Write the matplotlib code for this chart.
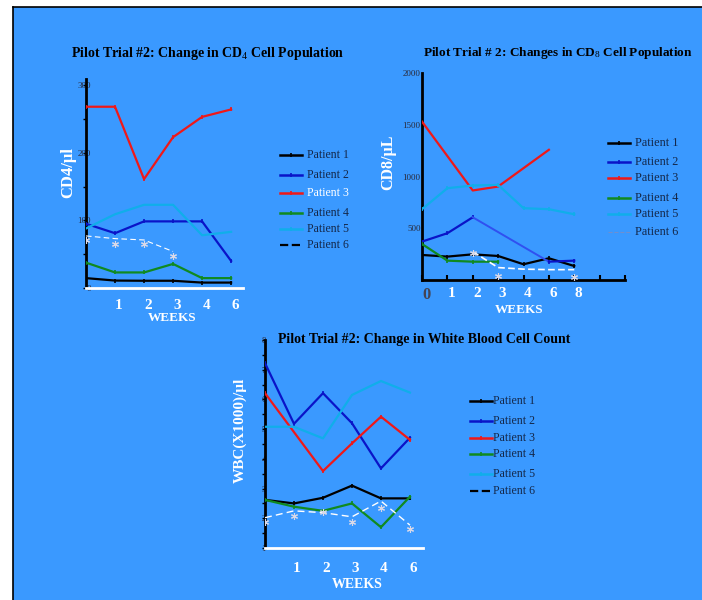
import matplotlib
matplotlib.use("Agg")
import matplotlib.pyplot as plt
from matplotlib.lines import Line2D
import matplotlib.transforms as mtransforms
import numpy as np

plt.rcParams['font.family'] = ['Liberation Serif', 'DejaVu Serif']
plt.rcParams['mathtext.fontset'] = 'custom'
plt.rcParams['mathtext.rm'] = 'Liberation Serif'
plt.rcParams['mathtext.it'] = 'Liberation Serif'
plt.rcParams['mathtext.bf'] = 'Liberation Serif:bold'

W, H = 702, 600
BG = '#3A99FF'
LEG_TXT = '#14284A'
TICK_TXT = '#2A2A3A'

patients = ['Patient 1', 'Patient 2', 'Patient 3', 'Patient 4', 'Patient 5', 'Patient 6']
colors = ['#000000', '#0A14C8', '#F01818', '#108A20', '#10AEEA', '#FFFFFF']

# ---------------- CD4 chart ----------------
cd4_weeks = ['0', '1', '2', '3', '4', '6']
cd4_p1 = [14.6, 11, 10.7, 10.7, 8, 8]
cd4_p2 = [95, 81, 98.5, 98.5, 98.5, 40]
cd4_p3 = [268, 268, 161, 223, 253, 264]
cd4_p4 = [37.5, 23, 23, 35.6, 14.6, 14.6]
cd4_p5 = [88, 109, 123, 123, 78, 83]
cd4_p6 = [77, 73, 71, 54]
cd4_p6_star = [71, 65, 65, 47]
cd4_yticks = [0, 100, 200, 300]

# ---------------- CD8 chart ----------------
cd8_weeks = ['0', '1', '2', '3', '4', '6', '8']
cd8_p1 = [242, 226, 248, 232, 152, 210, 135]
cd8_p2_x = [0, 1, 2, 5, 6]
cd8_p2 = [371, 452, 606, 177, 187]
cd8_p3_x = [0, 2, 3, 5]
cd8_p3 = [1530, 865, 903, 1258]
cd8_p4 = [348, 187, 177, 177]
cd8_p5 = [684, 887, 913, 919, 694, 684, 635]
cd8_p6_x = [2, 3, 4, 5, 6]
cd8_p6 = [274, 120, 105, 100, 100]
cd8_p6_star_x = [2, 3, 6]
cd8_p6_star = [262, 39, 26]
cd8_yticks = [500, 1000, 1500, 2000]

# ---------------- WBC chart ----------------
wbc_weeks = ['0', '1', '2', '3', '4', '6']
wbc_p1 = [2.62, 2.50, 2.69, 3.10, 2.67, 2.67]
wbc_p2 = [7.22, 5.18, 6.21, 5.20, 3.68, 4.71]
wbc_p3_x = [0, 2, 3, 4, 5]
wbc_p3 = [6.21, 3.59, 4.52, 5.42, 4.64]
wbc_p4 = [2.62, 2.39, 2.25, 2.50, 1.70, 2.73]
wbc_p5 = [5.08, 5.08, 4.69, 6.15, 6.62, 6.23]
wbc_p6 = [2.02, 2.25, 2.19, 2.05, 2.58, 1.77]
wbc_p6_star = [1.88, 2.08, 2.20, 1.88, 2.36, 1.64]
wbc_yticks = [1, 2, 3, 4, 5, 6, 7, 8]


def rect(l, t, r, b):
    return [l / W, 1 - b / H, (r - l) / W, (b - t) / H]


def fx(px):
    return px / W


def fy(py):
    return 1 - py / H


fig = plt.figure(figsize=(W / 100, H / 100), dpi=100, facecolor='white')
# blue panel with black frame lines
fig.add_artist(plt.Rectangle((fx(13), 0), 1 - fx(13), fy(7), transform=fig.transFigure,
                             facecolor=BG, edgecolor='none', zorder=-10))
fig.add_artist(Line2D([fx(12.5), fx(12.5)], [0, fy(6.5)], transform=fig.transFigure, color='black', lw=1.2))
fig.add_artist(Line2D([fx(12.5), 1], [fy(6.5), fy(6.5)], transform=fig.transFigure, color='black', lw=1.2))


def style_axes(ax):
    ax.set_facecolor('none')
    ax.patch.set_alpha(0)
    for s in ['top', 'right']:
        ax.spines[s].set_visible(False)


def shift_xlabels(ax, dx_px):
    off = mtransforms.ScaledTranslation(dx_px / 100, 0, fig.dpi_scale_trans)
    for lab in ax.get_xticklabels():
        lab.set_transform(lab.get_transform() + off)


def legend(x0, x1, xt, ys, txtcolors, styles, fs=9.5):
    for i, y in enumerate(ys):
        ls, lw, c = styles[i]
        fig.add_artist(Line2D([fx(x0), fx(x1)], [fy(y), fy(y)], transform=fig.transFigure,
                              color=c, lw=lw, ls=ls))
        if ls == '-':
            fig.add_artist(Line2D([fx((x0 + x1) / 2)], [fy(y)], transform=fig.transFigure,
                                  color=c, marker='|', ms=3.5, mew=1.2))
        fig.text(fx(xt), fy(y), patients[i], color=txtcolors[i], fontsize=fs,
                 va='center', ha='left')


# ================= Chart 1: CD4 =================
ax1 = fig.add_axes(rect(86, 79, 243, 288))
style_axes(ax1)
x = np.arange(len(cd4_weeks))
ax1.plot(x, cd4_p1, color=colors[0], lw=1.6, marker='|', ms=3.5, mew=1.2, zorder=3)
ax1.plot(x, cd4_p2, color=colors[1], lw=1.6, marker='|', ms=3.5, mew=1.2, zorder=3)
ax1.plot(x, cd4_p3, color=colors[2], lw=1.6, marker='|', ms=3.5, mew=1.2, zorder=3)
ax1.plot(x, cd4_p4, color=colors[3], lw=1.6, marker='|', ms=3.5, mew=1.2, zorder=3)
ax1.plot(x, cd4_p5, color=colors[4], lw=1.6, zorder=3)
ax1.plot(x[:len(cd4_p6)], cd4_p6, color='white', lw=0.8, ls=(0, (5, 3)), zorder=3)
ax1.plot(x[:len(cd4_p6_star)], cd4_p6_star, ls='none', marker=(6, 2, 0), ms=5,
         mew=0.8, color='#D8D8E8', zorder=3)
ax1.set_xlim(0, 5.41)
ax1.set_ylim(0, 309)
ax1.spines['left'].set_color('black')
ax1.spines['left'].set_linewidth(2)
ax1.spines['bottom'].set_color('white')
ax1.spines['bottom'].set_linewidth(2)
ax1.set_yticks(cd4_yticks)
ax1.set_yticks([50, 150, 250], minor=True)
ax1.set_yticklabels([str(v) for v in cd4_yticks])
ax1.tick_params(axis='y', which='both', direction='out', length=2.5, width=1, color='black',
                labelsize=6.5, labelcolor=TICK_TXT, pad=-6)
ax1.set_xticks(x)
ax1.set_xticklabels([''] + cd4_weeks[1:])
ax1.tick_params(axis='x', length=0, labelsize=11, labelcolor='white', pad=8)
for lab in ax1.get_xticklabels():
    lab.set_fontweight('bold')
shift_xlabels(ax1, 4)
fig.text(fx(208), fy(53), r'Pilot Trial #2: Change in CD$_{4}$ Cell Population', fontsize=10,
         fontweight='bold', ha='center', va='center', color='black')
fig.text(fx(172), fy(318), 'WEEKS', fontsize=9.5, fontweight='bold', color='white',
         ha='center', va='center')
fig.text(fx(68), fy(172), 'CD4/µl', fontsize=12, fontweight='bold', color='white',
         ha='center', va='center', rotation=90)
legend(280, 302, 307, [155, 175, 193, 213, 229, 245],
       [LEG_TXT, LEG_TXT, 'white', LEG_TXT, LEG_TXT, LEG_TXT],
       [('-', 1.8, colors[0]), ('-', 1.8, colors[1]), ('-', 1.8, colors[2]),
        ('-', 1.8, colors[3]), ('-', 1.8, colors[4]), ('--', 1.6, 'black')], fs=8.5)

# ================= Chart 2: CD8 =================
ax2 = fig.add_axes(rect(422, 73, 625, 280))
style_axes(ax2)
x2 = np.arange(len(cd8_weeks))
ax2.plot(x2, cd8_p1, color=colors[0], lw=1.6, marker='|', ms=3.5, mew=1.2, zorder=3)
ax2.plot(cd8_p2_x[:3], cd8_p2[:3], color=colors[1], lw=1.6, marker='|', ms=3.5, mew=1.2, zorder=3)
ax2.plot(cd8_p2_x[2:4], cd8_p2[2:4], color='#3050F0', lw=1.4, zorder=3)
ax2.plot(cd8_p2_x[3:], cd8_p2[3:], color=colors[1], lw=1.6, marker='|', ms=3.5, mew=1.2, zorder=3)
ax2.plot(cd8_p3_x, cd8_p3, color=colors[2], lw=1.6, zorder=3)
ax2.plot(x2[:len(cd8_p4)], cd8_p4, color=colors[3], lw=1.6, marker='|', ms=3.5, mew=1.2, zorder=3)
ax2.plot(x2, cd8_p5, color=colors[4], lw=1.6, marker='|', ms=3.5, mew=1.2, zorder=3)
ax2.plot(cd8_p6_x, cd8_p6, color='white', lw=1.2, ls=(0, (4, 2)), zorder=3)
ax2.plot(cd8_p6_star_x, cd8_p6_star, ls='none', marker=(6, 2, 0), ms=5, mew=0.8,
         color='#D8D8E8', zorder=3)
ax2.set_xlim(0, 8)
ax2.set_ylim(0, 2000)
for s in ['left', 'bottom']:
    ax2.spines[s].set_color('black')
    ax2.spines[s].set_linewidth(2)
ax2.set_yticks(cd8_yticks)
ax2.set_yticklabels([str(v) for v in cd8_yticks])
ax2.tick_params(axis='y', length=0, labelsize=6.5, labelcolor=TICK_TXT, pad=1)
ax2.set_xticks(np.arange(9))
ax2.set_xticklabels(cd8_weeks + ['', ''])
ax2.tick_params(axis='x', direction='in', length=3.5, width=1.5, color='black',
                labelsize=11, labelcolor='white', pad=5)
for lab in ax2.get_xticklabels():
    lab.set_fontweight('bold')
ax2.get_xticklabels()[0].set_color('#444455')
ax2.get_xticklabels()[0].set_fontsize(12)
shift_xlabels(ax2, 4)
fig.text(fx(423), fy(53), r'Pilot Trial # 2: Changes in CD$_{8}$ Cell Population', fontsize=9.5,
         fontweight='bold', ha='left', va='center', color='black')
fig.text(fx(519), fy(310), 'WEEKS', fontsize=9.5, fontweight='bold', color='white',
         ha='center', va='center')
fig.text(fx(388), fy(162), 'CD8/µL', fontsize=11.5, fontweight='bold', color='white',
         ha='center', va='center', rotation=90)
legend(608, 630, 635, [143, 162, 178, 198, 214, 232],
       [LEG_TXT] * 6,
       [('-', 1.8, colors[0]), ('-', 1.8, colors[1]), ('-', 1.8, colors[2]),
        ('-', 1.8, colors[3]), ('-', 1.8, colors[4]), ('--', 0.8, '#6F8FCF')], fs=8.8)

# ================= Chart 3: WBC =================
ax3 = fig.add_axes(rect(265, 340, 423, 548))
style_axes(ax3)
x3 = np.arange(len(wbc_weeks))
ax3.plot(x3, wbc_p1, color=colors[0], lw=1.6, marker='|', ms=3.5, mew=1.2, zorder=3)
ax3.plot(x3, wbc_p2, color=colors[1], lw=1.6, marker='|', ms=3.5, mew=1.2, zorder=3)
ax3.plot(wbc_p3_x, wbc_p3, color=colors[2], lw=1.6, marker='|', ms=3.5, mew=1.2, zorder=3)
ax3.plot(x3, wbc_p4, color=colors[3], lw=1.6, marker='|', ms=3.5, mew=1.2, zorder=3)
ax3.plot(x3, wbc_p5, color=colors[4], lw=1.6, zorder=3)
ax3.plot(x3, wbc_p6, color='white', lw=1.0, ls=(0, (5, 3)), zorder=3)
ax3.plot(x3, wbc_p6_star, ls='none', marker=(6, 2, 0), ms=5, mew=0.8,
         color='#D8D8E8', zorder=3)
ax3.set_xlim(0, 5.45)
ax3.set_ylim(1, 8)
ax3.spines['left'].set_color('black')
ax3.spines['left'].set_linewidth(2)
ax3.spines['bottom'].set_color('white')
ax3.spines['bottom'].set_linewidth(2)
ax3.set_yticks(wbc_yticks)
ax3.set_yticks(np.arange(1.5, 8, 1.0), minor=True)
ax3.set_yticklabels([str(v) for v in wbc_yticks])
ax3.tick_params(axis='y', which='both', direction='out', length=2.5, width=1, color='black',
                labelsize=6, labelcolor=TICK_TXT, pad=-3)
ax3.set_xticks(x3)
ax3.set_xticklabels([''] + wbc_weeks[1:])
ax3.tick_params(axis='x', length=0, labelsize=11, labelcolor='white', pad=10)
for lab in ax3.get_xticklabels():
    lab.set_fontweight('bold')
shift_xlabels(ax3, 3)
fig.text(fx(424), fy(340), 'Pilot Trial #2: Change in White Blood Cell Count', fontsize=10,
         fontweight='bold', ha='center', va='center', color='black')
fig.text(fx(357), fy(585), 'WEEKS', fontsize=10, fontweight='bold', color='white',
         ha='center', va='center')
fig.text(fx(240), fy(430), 'WBC(X1000)/µl', fontsize=11, fontweight='bold', color='white',
         ha='center', va='center', rotation=90)
legend(470, 492, 493, [401, 421, 438, 454, 474, 491],
       [LEG_TXT] * 6,
       [('-', 1.8, colors[0]), ('-', 1.8, colors[1]), ('-', 1.8, colors[2]),
        ('-', 1.8, colors[3]), ('-', 1.8, colors[4]), ('--', 1.6, 'black')], fs=8.6)

fig.savefig('out.png', dpi=100, facecolor='white')
